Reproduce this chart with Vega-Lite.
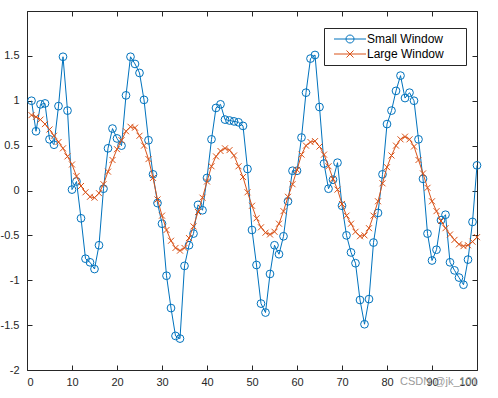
{
  "$schema": "https://vega.github.io/schema/vega-lite/v6.json",
  "width": 450,
  "height": 359,
  "autosize": {"type": "none"},
  "padding": {"left": 27, "top": 11, "right": 21, "bottom": 28},
  "background": "white",
  "config": {
    "font": "Liberation Sans",
    "view": {"stroke": "#262626", "strokeWidth": 1},
    "axis": {
      "grid": false,
      "domain": false,
      "tickColor": "#262626",
      "tickSize": -5,
      "tickWidth": 1,
      "labelColor": "#262626",
      "labelFontSize": 11,
      "labelFont": "Liberation Sans",
      "title": null
    },
    "legend": {
      "strokeColor": "#262626",
      "fillColor": "white",
      "padding": 5,
      "labelFontSize": 12,
      "labelFont": "Liberation Sans",
      "labelColor": "#000000",
      "symbolSize": 100,
      "symbolStrokeWidth": 1,
      "rowPadding": 3
    }
  },
  "data": {
    "values": [
      {"x": 1, "Small Window": 1.00, "Large Window": 0.84},
      {"x": 2, "Small Window": 0.66, "Large Window": 0.82},
      {"x": 3, "Small Window": 0.96, "Large Window": 0.79},
      {"x": 4, "Small Window": 0.97, "Large Window": 0.74},
      {"x": 5, "Small Window": 0.57, "Large Window": 0.68},
      {"x": 6, "Small Window": 0.51, "Large Window": 0.61},
      {"x": 7, "Small Window": 0.94, "Large Window": 0.54},
      {"x": 8, "Small Window": 1.49, "Large Window": 0.47},
      {"x": 9, "Small Window": 0.89, "Large Window": 0.38},
      {"x": 10, "Small Window": 0.01, "Large Window": 0.29},
      {"x": 11, "Small Window": 0.10, "Large Window": 0.16},
      {"x": 12, "Small Window": -0.31, "Large Window": 0.05},
      {"x": 13, "Small Window": -0.76, "Large Window": -0.02},
      {"x": 14, "Small Window": -0.80, "Large Window": -0.07},
      {"x": 15, "Small Window": -0.875, "Large Window": -0.08},
      {"x": 16, "Small Window": -0.61, "Large Window": -0.03},
      {"x": 17, "Small Window": 0.02, "Large Window": 0.07},
      {"x": 18, "Small Window": 0.47, "Large Window": 0.21},
      {"x": 19, "Small Window": 0.69, "Large Window": 0.34},
      {"x": 20, "Small Window": 0.58, "Large Window": 0.46},
      {"x": 21, "Small Window": 0.50, "Large Window": 0.56},
      {"x": 22, "Small Window": 1.06, "Large Window": 0.66},
      {"x": 23, "Small Window": 1.49, "Large Window": 0.71},
      {"x": 24, "Small Window": 1.41, "Large Window": 0.70},
      {"x": 25, "Small Window": 1.31, "Large Window": 0.61},
      {"x": 26, "Small Window": 1.01, "Large Window": 0.50},
      {"x": 27, "Small Window": 0.56, "Large Window": 0.35},
      {"x": 28, "Small Window": 0.18, "Large Window": 0.14},
      {"x": 29, "Small Window": -0.14, "Large Window": -0.10},
      {"x": 30, "Small Window": -0.37, "Large Window": -0.28},
      {"x": 31, "Small Window": -0.95, "Large Window": -0.44},
      {"x": 32, "Small Window": -1.31, "Large Window": -0.56},
      {"x": 33, "Small Window": -1.62, "Large Window": -0.64},
      {"x": 34, "Small Window": -1.65, "Large Window": -0.67},
      {"x": 35, "Small Window": -0.84, "Large Window": -0.64},
      {"x": 36, "Small Window": -0.61, "Large Window": -0.53},
      {"x": 37, "Small Window": -0.48, "Large Window": -0.40},
      {"x": 38, "Small Window": -0.16, "Large Window": -0.24},
      {"x": 39, "Small Window": -0.22, "Large Window": -0.08},
      {"x": 40, "Small Window": 0.14, "Large Window": 0.10},
      {"x": 41, "Small Window": 0.57, "Large Window": 0.27},
      {"x": 42, "Small Window": 0.92, "Large Window": 0.38},
      {"x": 43, "Small Window": 0.96, "Large Window": 0.44},
      {"x": 44, "Small Window": 0.79, "Large Window": 0.47},
      {"x": 45, "Small Window": 0.78, "Large Window": 0.45},
      {"x": 46, "Small Window": 0.77, "Large Window": 0.39},
      {"x": 47, "Small Window": 0.76, "Large Window": 0.27},
      {"x": 48, "Small Window": 0.72, "Large Window": 0.15},
      {"x": 49, "Small Window": 0.24, "Large Window": -0.02},
      {"x": 50, "Small Window": -0.44, "Large Window": -0.17},
      {"x": 51, "Small Window": -0.83, "Large Window": -0.31},
      {"x": 52, "Small Window": -1.26, "Large Window": -0.41},
      {"x": 53, "Small Window": -1.36, "Large Window": -0.47},
      {"x": 54, "Small Window": -0.93, "Large Window": -0.49},
      {"x": 55, "Small Window": -0.61, "Large Window": -0.46},
      {"x": 56, "Small Window": -0.71, "Large Window": -0.37},
      {"x": 57, "Small Window": -0.51, "Large Window": -0.23},
      {"x": 58, "Small Window": -0.12, "Large Window": -0.07},
      {"x": 59, "Small Window": 0.22, "Large Window": 0.07},
      {"x": 60, "Small Window": 0.22, "Large Window": 0.23},
      {"x": 61, "Small Window": 0.59, "Large Window": 0.40},
      {"x": 62, "Small Window": 1.09, "Large Window": 0.50},
      {"x": 63, "Small Window": 1.47, "Large Window": 0.54},
      {"x": 64, "Small Window": 1.51, "Large Window": 0.55},
      {"x": 65, "Small Window": 0.93, "Large Window": 0.49},
      {"x": 66, "Small Window": 0.30, "Large Window": 0.40},
      {"x": 67, "Small Window": 0.02, "Large Window": 0.27},
      {"x": 68, "Small Window": 0.12, "Large Window": 0.13},
      {"x": 69, "Small Window": 0.31, "Large Window": 0.01},
      {"x": 70, "Small Window": -0.17, "Large Window": -0.15},
      {"x": 71, "Small Window": -0.50, "Large Window": -0.28},
      {"x": 72, "Small Window": -0.69, "Large Window": -0.37},
      {"x": 73, "Small Window": -0.81, "Large Window": -0.46},
      {"x": 74, "Small Window": -1.22, "Large Window": -0.51},
      {"x": 75, "Small Window": -1.49, "Large Window": -0.50},
      {"x": 76, "Small Window": -1.21, "Large Window": -0.42},
      {"x": 77, "Small Window": -0.58, "Large Window": -0.28},
      {"x": 78, "Small Window": -0.25, "Large Window": -0.12},
      {"x": 79, "Small Window": 0.18, "Large Window": 0.08},
      {"x": 80, "Small Window": 0.74, "Large Window": 0.26},
      {"x": 81, "Small Window": 0.89, "Large Window": 0.39},
      {"x": 82, "Small Window": 1.11, "Large Window": 0.50},
      {"x": 83, "Small Window": 1.28, "Large Window": 0.57},
      {"x": 84, "Small Window": 1.03, "Large Window": 0.60},
      {"x": 85, "Small Window": 1.09, "Large Window": 0.57},
      {"x": 86, "Small Window": 1.00, "Large Window": 0.49},
      {"x": 87, "Small Window": 0.57, "Large Window": 0.34},
      {"x": 88, "Small Window": 0.13, "Large Window": 0.19},
      {"x": 89, "Small Window": -0.48, "Large Window": 0.03},
      {"x": 90, "Small Window": -0.78, "Large Window": -0.12},
      {"x": 91, "Small Window": -0.66, "Large Window": -0.23},
      {"x": 92, "Small Window": -0.33, "Large Window": -0.34},
      {"x": 93, "Small Window": -0.27, "Large Window": -0.42},
      {"x": 94, "Small Window": -0.80, "Large Window": -0.49},
      {"x": 95, "Small Window": -0.89, "Large Window": -0.55},
      {"x": 96, "Small Window": -0.97, "Large Window": -0.60},
      {"x": 97, "Small Window": -1.05, "Large Window": -0.62},
      {"x": 98, "Small Window": -0.77, "Large Window": -0.61},
      {"x": 99, "Small Window": -0.35, "Large Window": -0.57},
      {"x": 100, "Small Window": 0.28, "Large Window": -0.52}
    ]
  },
  "transform": [{"fold": ["Small Window", "Large Window"], "as": ["series", "y"]}],
  "title": {
    "text": "CSDN @jk_101",
    "orient": "bottom",
    "anchor": "end",
    "fontSize": 11,
    "fontWeight": "normal",
    "font": "Liberation Sans",
    "color": "#9a9a9a",
    "offset": 0,
    "dy": -11,
    "dx": -5
  },
  "resolve": {"axis": {"x": "independent", "y": "independent"}},
  "layer": [
    {
      "transform": [{"filter": "datum.series === 'Small Window'"}],
      "mark": {"type": "line", "strokeWidth": 1},
      "encoding": {
        "x": {"field": "x", "type": "quantitative", "scale": {"domain": [0, 100], "nice": false, "zero": false},
              "axis": {"orient": "bottom", "values": [0,10,20,30,40,50,60,70,80,90,100], "labelPadding": 11, "labelExpr": "'' + datum.value"}},
        "y": {"field": "y", "type": "quantitative", "scale": {"domain": [-2, 2], "nice": false, "zero": false},
              "axis": {"orient": "left", "values": [-2,-1.5,-1,-0.5,0,0.5,1,1.5,2], "labelPadding": 13, "labelExpr": "datum.value == 2 ? '' : '' + datum.value"}},
        "color": {"field": "series", "type": "nominal",
                  "scale": {"domain": ["Small Window", "Large Window"], "range": ["#0072BD", "#D95319"]},
                  "legend": {
                    "title": null,
                    "orient": "none",
                    "legendX": 297,
                    "legendY": 17,
                    "symbolOffset": 15,
                    "labelOffset": 11,
                    "labelExpr": "datum.label + '\u00a0\u00a0\u00a0\u00a0\u00a0\u200b'",
                    "encode": {
                      "symbols": {
                        "update": {
                          "shape": {"signal": "datum.value === 'Small Window' ? 'M-3.2,0H3.2M-0.8,0A0.8,0.8 0 1,0 0.8,0A0.8,0.8 0 1,0 -0.8,0' : 'M-3.2,0H3.2M-0.7,-0.7L0.7,0.7M-0.7,0.7L0.7,-0.7'"},
                          "fill": {"value": "transparent"},
                          "stroke": {"signal": "datum.value === 'Small Window' ? '#0072BD' : '#D95319'"},
                          "strokeWidth": {"value": 1}
                        }
                      }
                    }
                  }}
      }
    },
    {
      "transform": [{"filter": "datum.series === 'Small Window'"}],
      "mark": {"type": "point", "shape": "circle", "filled": false, "size": 60, "strokeWidth": 1, "opacity": 1},
      "encoding": {
        "x": {"field": "x", "type": "quantitative", "axis": null},
        "y": {"field": "y", "type": "quantitative", "axis": null},
        "color": {"field": "series", "type": "nominal"}
      }
    },
    {
      "transform": [{"filter": "datum.series === 'Large Window'"}],
      "mark": {"type": "line", "strokeWidth": 1},
      "encoding": {
        "x": {"field": "x", "type": "quantitative", "axis": null},
        "y": {"field": "y", "type": "quantitative", "axis": null},
        "color": {"field": "series", "type": "nominal"}
      }
    },
    {
      "transform": [{"filter": "datum.series === 'Large Window'"}],
      "mark": {"type": "point", "shape": "M-1,-1L1,1M-1,1L1,-1", "filled": false, "size": 36, "strokeWidth": 1, "opacity": 1},
      "encoding": {
        "x": {"field": "x", "type": "quantitative", "axis": null},
        "y": {"field": "y", "type": "quantitative", "axis": null},
        "color": {"field": "series", "type": "nominal"}
      }
    },
    {
      "transform": [{"filter": "datum.x == 1"}],
      "mark": {"type": "point", "opacity": 0},
      "encoding": {
        "x": {"field": "x", "type": "quantitative",
              "axis": {"orient": "top", "values": [0,10,20,30,40,50,60,70,80,90,100], "labels": false}},
        "y": {"field": "y", "type": "quantitative",
              "axis": {"orient": "right", "values": [-2,-1.5,-1,-0.5,0,0.5,1,1.5,2], "labels": false}}
      }
    }
  ]
}
